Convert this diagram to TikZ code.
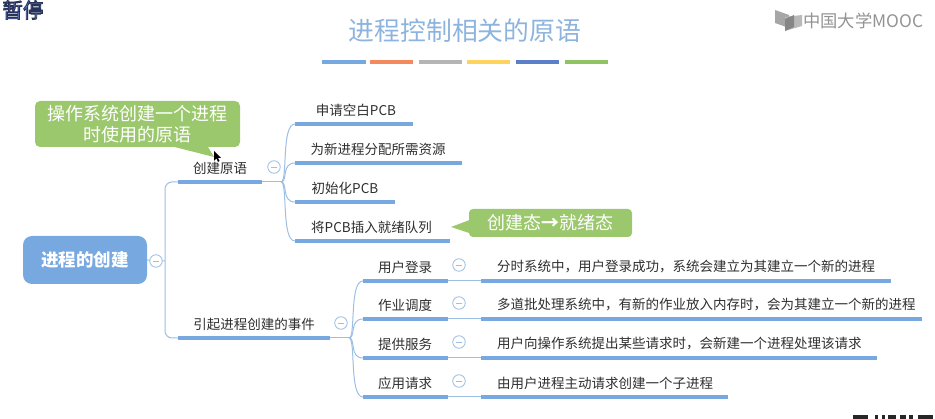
\documentclass[tikz,border=0pt]{standalone}
\usepackage{fontspec}
\setmainfont{Noto Sans CJK SC}
\usetikzlibrary{positioning}
\definecolor{mapblue}{HTML}{77A8E0}
\definecolor{thinblue}{HTML}{9DBFE4}
\definecolor{notegreen}{HTML}{9BC86C}
\definecolor{titleblue}{HTML}{8DB4DE}
\definecolor{inktext}{HTML}{2E2E2E}
\tikzset{
  heavy/.style={mapblue,line width=3.3pt},
  thin/.style={thinblue,line width=1pt,rounded corners=7pt},
  twig/.style={thinblue,line width=1pt},
  lab/.style={font=\fontsize{13.5}{15}\selectfont,text=inktext,inner sep=0pt},
  fold/.style={circle,draw=thinblue,line width=0.8pt,fill=white,minimum size=12.5pt,inner sep=0pt,
    path picture={\draw[thinblue,line width=0.8pt] ([xshift=-3pt]path picture bounding box.center) -- ([xshift=3pt]path picture bounding box.center);}},
  notebox/.style={fill=notegreen,rounded corners=5pt,text=white,align=center,inner sep=0pt,font=\fontsize{18}{21}\selectfont},
  bar/.style={minimum height=4.5pt,minimum width=43.5pt,inner sep=0pt}
}
\begin{document}
\begin{tikzpicture}[x=1pt,y=-1pt]
  \useasboundingbox (0,0) rectangle (935,419);
  % header
  \node[inner sep=0pt,font=\fontsize{20.5}{21}\selectfont] (pause) at (23,10) {\color[HTML]{6A8CE0}\special{pdf:code 2 Tr 0.9 w 0.16 0.2 0.35 RG}暂停\special{pdf:code 0 Tr 0 w}};
  \node[inner sep=0pt,text=titleblue,font=\fontsize{25.8}{26}\selectfont] (title) at (465,31) {进程控制相关的原语};
  \foreach \x/\col in {344/77A8E0,391.5/F4895F,440.5/B5B5B5,488.5/FFD45E,537.5/5B80C8,586.5/8FC363}{
    \definecolor{barcol}{HTML}{\col}
    \node[bar,fill=barcol] at (\x,62) {};
  }
  \node[inner sep=0pt,text=gray!85,font=\fontsize{17.3}{17}\selectfont,anchor=west] (mooc) at (803,21) {中国大学MOOC};
  \fill[gray!70] (775,10) -- (789,15) -- (789,28) -- (775,23) -- cycle;
  \fill[gray!55] (785,17) -- (802,15) -- (802,26) -- (785,31) -- cycle;
  \fill[gray!95] (785,19) -- (794,15) -- (794,27) -- (785,31) -- cycle;
  % root and first level
  \node[fill=mapblue,rounded corners=9pt,minimum width=124pt,minimum height=48pt,inner sep=0pt,text=white,font=\bfseries\fontsize{17.5}{18}\selectfont] (root) at (85,260) {进程的创建};
  \coordinate (up) at (178,182);
  \coordinate (upend) at (262,182);
  \coordinate (low) at (178,338);
  \coordinate (lowend) at (330,338);
  \draw[thin] (up) -| (165,338) -- (low);
  \draw[twig] (root.east) -- (165,261);
  \node[fold] (rootfold) at (156,261) {};
  \draw[heavy] (up) -- (upend);
  \draw[heavy] (low) -- (lowend);
  \node[lab] (create) at (220,168) {创建原语};
  \node[lab] (event) at (254,324) {引起进程创建的事件};
  \node[fold] (createfold) at (274,167) {};
  \node[fold] (eventfold) at (341,323) {};
  % creation steps
  \coordinate (fork) at (281,182);
  \draw[twig] (upend) -- (fork);
  \foreach \name/\y/\xend/\xtxt/\txt in {a/124/413/356/{申请空白PCB},b/163/462/378/{为新进程分配所需资源},c/202/395/345/{初始化PCB},d/241/450/371.5/{将PCB插入就绪队列}}{
    \coordinate (\name s) at (295,\y);
    \coordinate (\name e) at (\xend,\y);
    \draw[twig] (fork) .. controls (288,182) and (281,\y) .. (\name s);
    \draw[heavy] (\name s) -- (\name e);
    \node[lab] (\name txt) at (\xtxt,\y-13.5) {\txt};
  }
  % events
  \coordinate (forkb) at (349,338);
  \draw[twig] (lowend) -- (forkb);
  \foreach \name/\y/\xend/\txt/\desc in {p/281/891/{用户登录}/{分时系统中，用户登录成功，系统会建立为其建立一个新的进程},q/319/922/{作业调度}/{多道批处理系统中，有新的作业放入内存时，会为其建立一个新的进程},r/358/877/{提供服务}/{用户向操作系统提出某些请求时，会新建一个进程处理该请求},s/397/728/{应用请求}/{由用户进程主动请求创建一个子进程}}{
    \coordinate (\name s) at (363,\y);
    \coordinate (\name m) at (448,\y);
    \coordinate (\name n) at (481,\y);
    \coordinate (\name e) at (\xend,\y);
    \draw[twig] (forkb) .. controls (356,338) and (349,\y) .. (\name s);
    \draw[heavy] (\name s) -- (\name m);
    \draw[twig] (\name m) -- (\name n);
    \draw[heavy] (\name n) -- (\name e);
    \node[lab] (\name txt) at (405,\y-14) {\txt};
    \node[lab,anchor=west] (\name desc) at (497,\y-14) {\desc};
    \node[fold] (\name fold) at (459,\y-16) {};
  }
  % green notes
  \fill[notegreen] (155,142) -- (214,157) -- (205,142) -- cycle;
  \node[notebox,minimum width=205pt,minimum height=46pt] (note) at (137.5,124) {操作系统创建一个进程\\时使用的原语};
  \fill[notegreen] (475,218) -- (451,227) -- (475,235) -- cycle;
  \node[notebox,rounded corners=4pt,minimum width=163pt,minimum height=28pt] (state) at (550.5,223) {创建态{\bfseries→}就绪态};
  \fill[black] (214,151) -- (214,161) -- (216.5,158.5) -- (218,162) -- (219.5,161) -- (218,158) -- (221,158) -- cycle;
  % cut-off code at the lower edge
  \foreach \x/\w in {853/15,875/3,882/3,888/8,900/6,909/4,918/15}{
    \fill[black!85] (\x,415) rectangle ++(\w,4);
  }
\end{tikzpicture}
\end{document}
